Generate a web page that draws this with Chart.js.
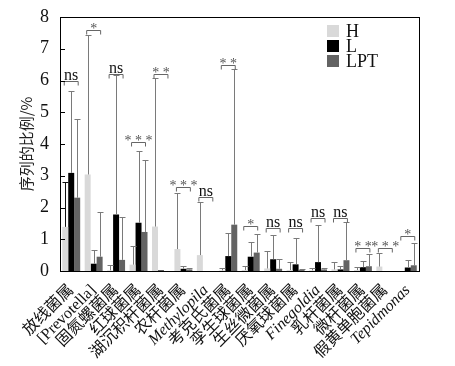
<!DOCTYPE html>
<html lang="zh">
<head>
  <meta charset="UTF-8" />
  <title>序列的比例</title>
  <script src="https://cdn.jsdelivr.net/npm/chart.js"></script>
  <style>
    html, body { margin: 0; padding: 0; background: #fff; }
    .box { width: 455px; height: 366px; }
  </style>
</head>
<body>
  <div class="box"><canvas id="grafico" width="455" height="366"></canvas></div>

  <script>
    const categorias = ['放线菌属', '[Prevotella]', '固氮螺菌属', '红球菌属', '湖沉积杆菌属', '农杆菌属', 'Methylopila', '考克氏菌属',
      '孪生球菌属', '生丝微菌属', '厌氧球菌属', 'Finegoldia', '乳杆菌属', '微杆菌属', '假黄单胞菌属', 'Tepidmonas'];
    const italicos = ['Methylopila', 'Finegoldia', 'Tepidmonas'];

    const grupos = ['H', 'L', 'LPT'];
    const valoresH = [1.39, 3.04, 0.02, 0.2, 1.4, 0.69, 0.5, 0.02, 0.03, 0.08, 0.03, 0.02, 0.05, 0.03, 0.14, 0];
    const valoresL = [3.09, 0.23, 1.78, 1.52, 0.02, 0.07, 0, 0.47, 0.45, 0.37, 0.21, 0.28, 0.05, 0.12, 0, 0.11];
    const valoresLPT = [2.31, 0.45, 0.35, 1.23, 0, 0.05, 0, 1.46, 0.58, 0.07, 0.03, 0.05, 0.34, 0.15, 0, 0.18];

    // topo da barra de erro (valor + desvio)
    const erroH = [2.8, 7.43, 0.19, 0.79, 6.07, 2.45, 2.16, 0.1, 0.16, 0.63, 0.28, 0.1, 0.28, 0.12, 0.56, 0];
    const erroL = [5.68, 0.66, 6.17, 3.79, 0, 0.15, 0, 1.21, 0.9, 1.14, 1.05, 1.45, 0.17, 0.3, 0, 0.35];
    const erroLPT = [4.8, 1.85, 1.69, 3.49, 0, 0.08, 0, 6.35, 1.18, 0.39, 0.06, 0.08, 1.55, 0.52, 0, 0.87];

    const significancia = ['ns', '*', 'ns', '***', '**', '***', 'ns', '**', '*', 'ns', 'ns', 'ns', 'ns', '**', '***', '*'];
    const alturaColchete = [6.0, 7.6, 6.2, 4.05, 6.2, 2.64, 2.32, 6.5, 1.42, 1.34, 1.34, 1.67, 1.67, 0.74, 0.74, 1.09];

    const ticksY = [0, 1, 2, 3, 4, 5, 6, 7, 8];
    const tituloY = '序列的比例/%';

    const cores = ['#d9d9d9', '#000000', '#636363'];
    const fonteSerif = '"Times New Roman", "Liberation Serif", "DejaVu Serif", serif';
    const fonteMista = '"Times New Roman", "Liberation Serif", "DejaVu Serif", "Noto Sans CJK SC", serif';

    const extras = {
      id: 'extras',
      afterDatasetsDraw(chart) {
        const ctx = chart.ctx;
        const area = chart.chartArea;
        const y = chart.scales.y;
        const erros = [erroH, erroL, erroLPT];
        const valores = [valoresH, valoresL, valoresLPT];

        // barras de erro
        ctx.save();
        ctx.lineWidth = 1;
        chart.data.datasets.forEach((ds, d) => {
          const meta = chart.getDatasetMeta(d);
          meta.data.forEach((bar, i) => {
            const topo = erros[d][i];
            if (topo <= valores[d][i]) return;
            const x = Math.round(bar.x) + 0.5;
            const y0 = y.getPixelForValue(valores[d][i]);
            const y1 = Math.round(y.getPixelForValue(topo)) + 0.5;
            ctx.strokeStyle = (d === 0 && i === 0) ? '#111' : '#7a7a7a';
            ctx.beginPath();
            ctx.moveTo(x, y0);
            ctx.lineTo(x, y1);
            ctx.moveTo(x - 3, y1);
            ctx.lineTo(x + 3, y1);
            ctx.stroke();
          });
        });

        // colchetes de significância
        const metaH = chart.getDatasetMeta(0);
        const metaLPT = chart.getDatasetMeta(2);
        significancia.forEach((txt, i) => {
          const xa = metaH.data[i].x - 1;
          const xb = metaLPT.data[i].x + 1;
          const yb = Math.round(y.getPixelForValue(alturaColchete[i])) + 0.5;
          ctx.strokeStyle = '#666';
          ctx.beginPath();
          ctx.moveTo(xa, yb + 4);
          ctx.lineTo(xa, yb);
          ctx.lineTo(xb, yb);
          ctx.lineTo(xb, yb + 4);
          ctx.stroke();
          ctx.textAlign = 'center';
          ctx.textBaseline = 'alphabetic';
          if (txt === 'ns') {
            ctx.fillStyle = '#111';
            ctx.font = '16px ' + fonteSerif;
            ctx.fillText(txt, (xa + xb) / 2, yb - 2);
          } else {
            ctx.fillStyle = '#555';
            ctx.font = '14px ' + fonteSerif;
            ctx.fillText(txt.split('').join(' '), (xa + xb) / 2, yb + 2);
          }
        });

        // moldura e ticks internos
        ctx.strokeStyle = '#000';
        ctx.lineWidth = 1;
        ctx.strokeRect(Math.round(area.left) + 0.5, Math.round(area.top) + 0.5,
          Math.round(area.right - area.left), Math.round(area.bottom - area.top));
        ticksY.forEach(v => {
          const py = Math.round(y.getPixelForValue(v)) + 0.5;
          ctx.beginPath();
          ctx.moveTo(area.left, py);
          ctx.lineTo(area.left + 5, py);
          ctx.stroke();
        });

        // título do eixo y
        ctx.save();
        ctx.translate(26, (area.top + area.bottom) / 2);
        ctx.rotate(-Math.PI / 2);
        ctx.font = '15px "Noto Sans CJK SC", serif';
        ctx.fillStyle = '#222';
        ctx.textAlign = 'center';
        ctx.textBaseline = 'middle';
        ctx.fillText(tituloY, 0, 0);
        ctx.restore();

        // legenda
        ctx.font = '18px ' + fonteSerif;
        ctx.textAlign = 'left';
        ctx.textBaseline = 'middle';
        grupos.forEach((g, k) => {
          const ly = 31 + k * 15;
          ctx.fillStyle = cores[k];
          ctx.fillRect(327, ly - 6, 12, 12);
          ctx.fillStyle = '#111';
          ctx.fillText(g, 346, ly + 1);
        });
        ctx.restore();
      }
    };

    const ctxGrafico = document.getElementById('grafico').getContext('2d');

    new Chart(ctxGrafico, {
      type: 'bar',
      data: {
        labels: categorias,
        datasets: [
          { label: grupos[0], data: valoresH, backgroundColor: cores[0] },
          { label: grupos[1], data: valoresL, backgroundColor: cores[1] },
          { label: grupos[2], data: valoresLPT, backgroundColor: cores[2] },
        ],
      },
      options: {
        responsive: false,
        animation: false,
        layout: {
          padding: { top: 17, right: 36, left: 0, bottom: 0 },
        },
        datasets: {
          bar: { categoryPercentage: 0.8, barPercentage: 1.0 },
        },
        scales: {
          y: {
            min: 0,
            max: 8,
            afterFit(scale) { scale.width = 60; },
            afterBuildTicks(scale) { scale.ticks = ticksY.map(v => ({ value: v })); },
            border: { display: false },
            grid: { display: false },
            ticks: {
              color: '#111',
              padding: 3,
              font: { family: fonteSerif, size: 18 },
            },
          },
          x: {
            afterFit(scale) { scale.height = 95; },
            border: { display: false },
            grid: { display: false },
            ticks: {
              color: '#111',
              minRotation: 45,
              maxRotation: 45,
              autoSkip: false,
              padding: 2,
              font: (c) => ({
                family: fonteMista,
                size: 16,
                style: italicos.includes(categorias[c.index]) ? 'italic' : 'normal',
              }),
            },
          },
        },
        plugins: {
          legend: { display: false },
          tooltip: { enabled: false },
        },
      },
      plugins: [extras],
    });
  </script>
</body>
</html>
